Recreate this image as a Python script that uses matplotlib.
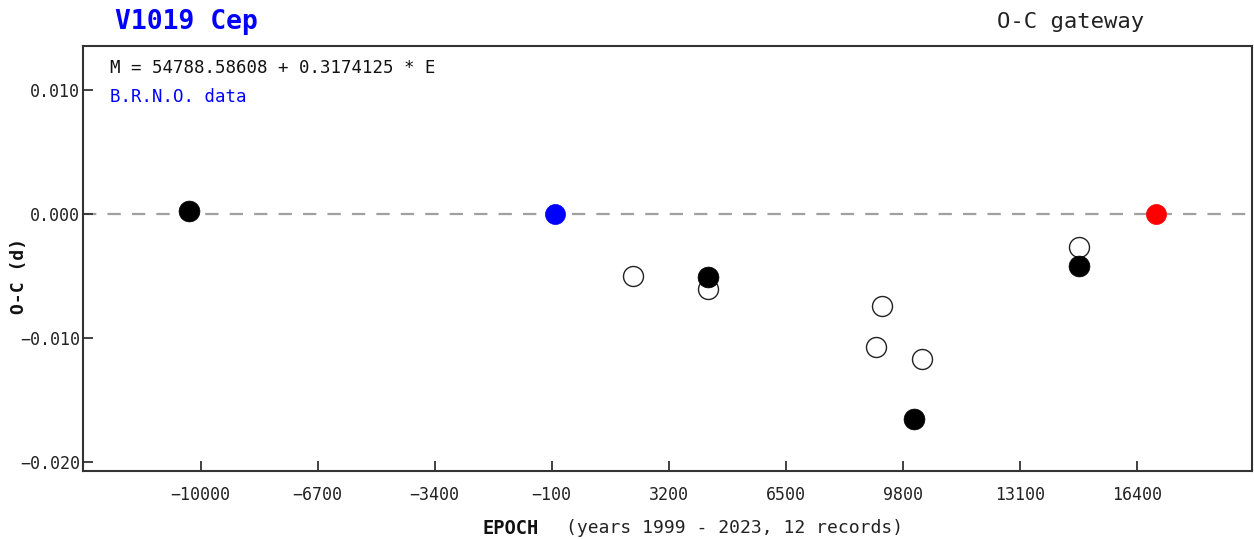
import numpy as np
import matplotlib
matplotlib.use("Agg")
import matplotlib.pyplot as plt

# --- O-C data (epoch, O-C in days) ---
prim_epoch = [-10325, 4317, 10117, 14761]
prim_oc = [0.00029, -0.00508, -0.01653, -0.00417]

sec_epoch = [2185, 4317, 9214, 9054, 10334, 14761]
sec_oc = [-0.00495, -0.00602, -0.00740, -0.01073, -0.01165, -0.00261]

brno_epoch = [0]
brno_oc = [0.0]

last_epoch = [16932]
last_oc = [0.0]

xticks = [-10000, -6700, -3400, -100, 3200, 6500, 9800, 13100, 16400]
yticks = [0.010, 0.000, -0.010, -0.020]

W, H = 1254, 539
plt.rcParams['font.family'] = ['DejaVu Sans Mono']

fig = plt.figure(figsize=(W / 100, H / 100), dpi=100)
ax = fig.add_axes([82.7 / W, 1 - 470.7 / H, (1252 - 82.7) / W, (470.7 - 45.5) / H])

ax.set_xlim(-13323, 19647)
ax.set_ylim(-0.02068, 0.01361)

ax.axhline(0, color='#a0a0a0', lw=1.6, ls=(0, (6, 5)), zorder=1)

ms = 14.4
ax.plot(sec_epoch, sec_oc, 'o', ms=ms, mfc='white', mec='#222222', mew=1.0, zorder=3)
ax.plot(prim_epoch, prim_oc, 'o', ms=ms + 0.6, mfc='black', mec='black', mew=0.5, zorder=4)
ax.plot(brno_epoch, brno_oc, 'o', ms=ms, mfc='#0000ff', mec='#0000ff', mew=0.5, zorder=4)
ax.plot(last_epoch, last_oc, 'o', ms=ms, mfc='#ff0000', mec='#ff0000', mew=0.5, zorder=4)


def fmt_minus(s):
    return s.replace('-', '\u2212')


ax.set_xticks(xticks)
ax.set_xticklabels([fmt_minus(str(t)) for t in xticks])
ax.set_yticks(yticks)
ax.set_yticklabels([fmt_minus(f'{t:.3f}') for t in yticks])

for s in ax.spines.values():
    s.set_color('#333333')
    s.set_linewidth(1.5)
ax.tick_params(direction='in', length=7, width=1.3, color='#333333',
               labelsize=12, labelcolor='#222222')
ax.tick_params(axis='x', pad=11)
ax.tick_params(axis='y', pad=2)

# header texts
fig.text(186 / W, 1 - 22 / H, 'V1019 Cep', color='#0000ff', fontsize=19,
         fontweight='bold', ha='center', va='center')
fig.text(1071 / W, 1 - 22 / H, 'O-C gateway', color='#222222', fontsize=16,
         ha='center', va='center')

ax.text(110 / W, 1 - 68 / H, 'M = 54788.58608 + 0.3174125 * E', transform=fig.transFigure,
        fontsize=12.5, color='#111111', ha='left', va='center')
ax.text(110 / W, 1 - 97 / H, 'B.R.N.O. data', transform=fig.transFigure,
        fontsize=12.5, color='#0000ff', ha='left', va='center')

# axis labels
fig.text(19 / W, 1 - 276 / H, 'O-C (d)', rotation=90, fontsize=13, fontweight='bold',
         ha='center', va='center', color='#111111')
fig.text(511 / W, 1 - 529 / H, 'EPOCH', fontsize=13.5, fontweight='bold',
         ha='center', va='center', color='#111111')
fig.text(566 / W, 1 - 528 / H, '(years 1999 - 2023, 12 records)', fontsize=13,
         ha='left', va='center', color='#222222')

fig.savefig('out.png', dpi=100)
